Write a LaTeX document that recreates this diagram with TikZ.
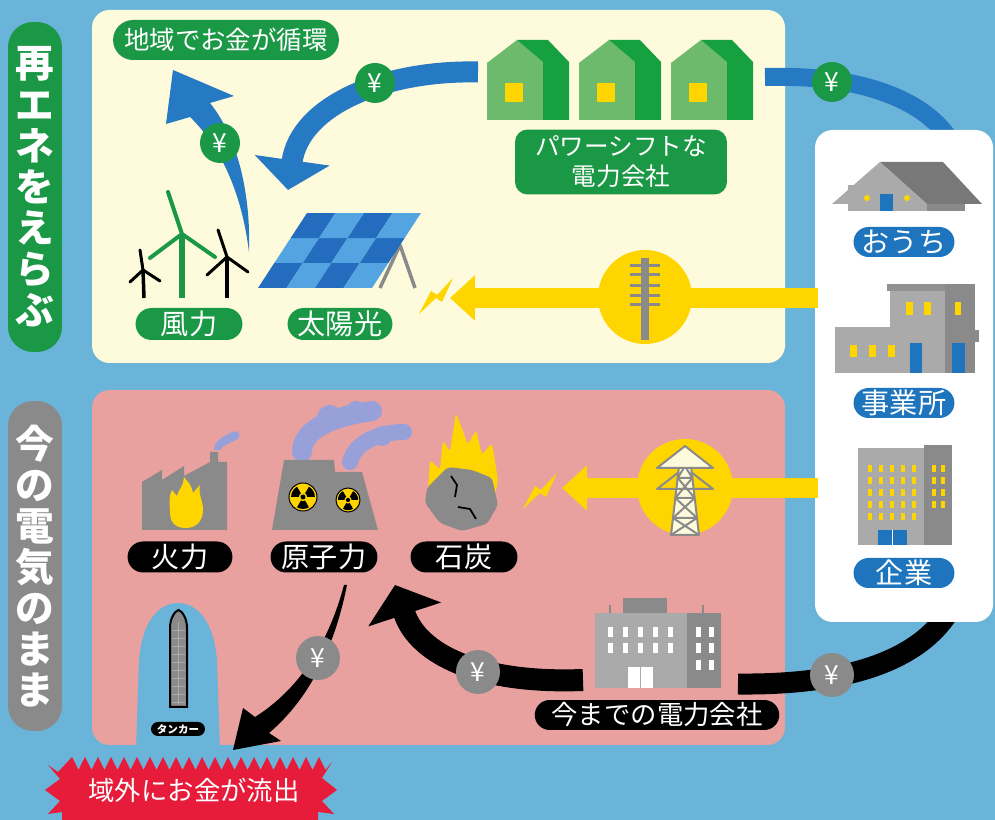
\documentclass[tikz,border=0pt]{standalone}
\usepackage{fontspec}
\setmainfont{Noto Sans CJK JP}
\usepackage{xcolor}
\usetikzlibrary{arrows.meta, shapes.misc, positioning}

\definecolor{sky}{RGB}{106,179,217}
\definecolor{cream}{RGB}{254,251,221}
\definecolor{rose}{RGB}{233,161,159}
\definecolor{leaf}{RGB}{27,152,70}
\definecolor{leaflight}{RGB}{110,186,108}
\definecolor{leafdark}{RGB}{22,160,64}
\definecolor{flowblue}{RGB}{38,122,196}
\definecolor{sun}{RGB}{255,213,0}
\definecolor{ash}{RGB}{138,138,138}
\definecolor{ashlight}{RGB}{170,170,170}
\definecolor{ashdark}{RGB}{120,120,120}
\definecolor{pillblue}{RGB}{30,117,190}
\definecolor{smoke}{RGB}{152,160,218}
\definecolor{alert}{RGB}{230,28,58}
\definecolor{cellA}{RGB}{35,108,190}
\definecolor{cellB}{RGB}{84,164,226}

\begin{document}
\begin{tikzpicture}[x=0.02cm, y=-0.02cm,
    pill/.style={rounded rectangle, inner xsep=6pt, inner ysep=0pt, text=white,
                 font=\fontsize{16}{16}\selectfont},
    greenpill/.style={pill, fill=leaf, minimum height=0.64cm},
    blackpill/.style={pill, fill=black, minimum width=2.52cm, minimum height=0.62cm},
    bluepill/.style={pill, fill=pillblue, minimum width=2.44cm, minimum height=0.6cm},
    sidelabel/.style={rounded corners=0.5cm, minimum width=1.08cm, minimum height=6.6cm,
                      text=white, align=center, font=\bfseries\fontsize{22}{23.4}\selectfont},
    yen/.style={circle, inner sep=0pt, minimum size=0.8cm, text=white,
                font=\fontsize{15}{15}\selectfont},
    greenyen/.style={yen, fill=leaf},
    grayyen/.style={yen, fill=ash, minimum size=0.88cm},
    band/.style={line width=0.42cm},
    blade/.style={line width=0.06cm, line cap=round},
  ]
  \useasboundingbox (0,0) rectangle (995,820);
  \clip (0,0) rectangle (995,820);
  \fill[sky] (0,0) rectangle (995,820);

  % the two panels
  \fill[cream, rounded corners=0.35cm] (92,10) rectangle (785,363);
  \fill[rose, rounded corners=0.35cm] (92,390) rectangle (785,745);
  % bay for the tanker
  \fill[sky] (136,750) -- (139,660) .. controls (143,615) and (163,603) .. (178,603)
    .. controls (193,603) and (213,615) .. (217,660) -- (220,750) -- cycle;

  % money bands that run under the customer panel
  \coordinate (housesE) at (765,77);
  \coordinate (homesTop) at (950,140);
  \coordinate (homesBot) at (950,610);
  \coordinate (oldcoE) at (738,684);
  \draw[flowblue, line width=0.36cm] (housesE) .. controls (860,74) and (925,100) .. (homesTop);
  \draw[black, band] (homesBot) .. controls (915,668) and (830,685) .. (oldcoE);

  % customers
  \fill[white, rounded corners=0.35cm] (815,130) rectangle (993,622);

  % house
  \fill[ashlight] (848,185) rectangle (927,211);
  \fill[ash] (927,195) rectangle (965,211);
  \fill[ashdark] (880,162) -- (943,162) -- (982,204) -- (927,204) -- cycle;
  \fill[ashlight] (832,204) -- (880,162) -- (927,204) -- cycle;
  \fill[sun] (867,198) circle[radius=3] (907,198) circle[radius=3];
  \fill[pillblue] (880,194) rectangle (893,211);

  % small office
  \fill[ashlight] (835,327) rectangle (892,373);
  \fill[ashlight] (890,290) rectangle (947,373);
  \fill[ashlight!85!black] (887,284) rectangle (949,291);
  \fill[ash] (945,284) rectangle (975,373);
  \fill[ash] (975,330) rectangle (979,342);
  \foreach \wx in {850,869,888} \fill[sun] (\wx,345) rectangle ++(7,12);
  \foreach \wx in {906,924} \fill[sun] (\wx,302) rectangle ++(7,13);
  \fill[sun] (955,302) rectangle ++(6,13);
  \fill[pillblue] (910,343) rectangle (922,373);
  \fill[pillblue] (952,343) rectangle (965,373);

  % corporate tower
  \fill[ashlight] (858,448) rectangle (924,545);
  \fill[ash] (924,445) rectangle (952,545);
  \foreach \wx in {868,879,890,901,912}
    \foreach \wy in {465,477,489,501,513} \fill[sun] (\wx,\wy) rectangle ++(4,7);
  \foreach \wx in {932,941}
    \foreach \wy in {465,477,489,501} \fill[sun] (\wx,\wy) rectangle ++(4,7);
  \fill[pillblue] (878,530) rectangle (907,545);
  \draw[white, line width=0.02cm] (892.5,530) -- (892.5,545);

  % green power companies
  \foreach \hx in {487,579,671} {
    \fill[leaflight] (\hx,120) -- (\hx,63) -- (\hx+30,40) -- (\hx+56,62) -- (\hx+56,120) -- cycle;
    \fill[leafdark] (\hx+30,40) -- (\hx+61,40) -- (\hx+82,62) -- (\hx+82,120) -- (\hx+56,120) -- (\hx+56,62) -- cycle;
    \fill[sun] (\hx+18,83) rectangle (\hx+36,102);
  }

  % wind turbines
  \draw[leaf, line width=0.11cm] (182,298) -- (182,234);
  \draw[leaf, blade, line width=0.08cm] (182,234) -- (168,192) (182,234) -- (150,258) (182,234) -- (215,257);
  \draw[black, line width=0.07cm] (144,298) -- (143,270);
  \draw[black, blade] (143,270) -- (140,250) (143,270) -- (130,282) (143,270) -- (160,281);
  \draw[black, line width=0.08cm] (227,298) -- (227,257);
  \draw[black, blade] (227,257) -- (218,230) (227,257) -- (207,275) (227,257) -- (248,272);

  % solar panel
  \draw[ash, line width=0.07cm, line join=round] (380,288) -- (400,245) -- (415,288);
  \begin{scope}[shift={(258,288)}, x={(0.57cm,0cm)}, y={(0.3267cm,0.5cm)}]
    \foreach \i in {0,...,3}
      \foreach \j in {0,...,2} {
        \pgfmathtruncatemacro\k{mod(\i+\j,2)}
        \ifnum\k=0 \def\cell{cellA}\else\def\cell{cellB}\fi
        \fill[\cell] (\i,\j) -- (\i+1,\j) -- (\i+1,\j+1) -- (\i,\j+1) -- cycle;
      }
  \end{scope}

  % renewable money loop
  \coordinate (housesW) at (478,72);
  \coordinate (plantsIn) at (288,190);
  \draw[flowblue, line width=0.42cm, -{Triangle[length=0.6cm, width=1.48cm]}]
    (housesW) .. controls (385,70) and (300,105) .. (plantsIn);
  \fill[flowblue] (249,252) .. controls (242,195) and (222,148) .. (190,117) -- (166,124)
    -- (173,70) -- (234,96) -- (210,103) .. controls (236,135) and (251,190) .. (249,252) -- cycle;

  % power lines
  \coordinate (homesW1) at (818,298);
  \coordinate (solarIn) at (450,298);
  \coordinate (homesW2) at (818,488);
  \coordinate (fossilIn) at (562,488);
  \draw[sun, line width=0.4cm, -{Triangle[length=0.5cm, width=0.88cm]}] (homesW1) -- (solarIn);
  \draw[sun, line width=0.4cm, -{Triangle[length=0.5cm, width=0.88cm]}] (homesW2) -- (fossilIn);
  \node[circle, fill=sun, minimum size=1.88cm] (pole) at (645,297) {};
  \node[circle, fill=sun, minimum size=1.92cm] (pylon) at (685,487) {};
  \foreach \bx/\by in {436/296, 540/491}
    \fill[sun] (\bx-17,\by+18) -- (\bx-5,\by-5) -- (\bx+1,\by-1) -- (\bx+17,\by-18)
      -- (\bx+6,\by+6) -- (\bx,\by+2) -- cycle;

  % utility pole
  \fill[ash] (641,258) rectangle (649,340);
  \foreach \by in {264,273,284,294,303} \fill[ash] (630,\by) rectangle (660,\by+3);
  % pylon
  \begin{scope}[ash, line width=0.04cm, line join=round]
    \draw[fill=cream] (680,458) -- (690,458) -- (699,535) -- (671,535) -- cycle;
    \draw (680,458) -- (692.3,478) -- (675.3,498) -- (697,518) -- (671,535)
          (690,458) -- (677.7,478) -- (694.7,498) -- (673,518) -- (699,535)
          (677.7,478) -- (692.3,478) (675.3,498) -- (694.7,498) (673,518) -- (697,518);
    \draw[fill=cream] (685,446) -- (713,468) -- (657,468) -- cycle;
    \draw (679,472) -- (657,489) -- (713,489) -- (691,472);
  \end{scope}

  % thermal plant
  \fill[ash] (142,530) -- (142,482) -- (162,470) -- (162,480) -- (184,466) -- (184,476)
    -- (210,462) -- (210,452) -- (218,452) -- (218,462) -- (227,462) -- (227,530) -- cycle;
  \fill[smoke] (214,450) .. controls (214,440) and (225,436) .. (232,432)
    .. controls (239,429) and (243,436) .. (236,440) .. controls (228,444) and (222,446) .. (220,450) -- cycle;
  \fill[sun] (170,512) .. controls (170,525) and (178,528) .. (186,528)
    .. controls (196,528) and (203,521) .. (203,510) .. controls (203,500) and (198,495) .. (200,485)
    -- (193,493) .. controls (192,486) and (188,482) .. (184,477) .. controls (183,488) and (178,490) .. (177,496)
    -- (172,490) .. controls (168,498) and (170,505) .. (170,512) -- cycle;

  % nuclear plant
  \draw[smoke, line width=0.4cm, line cap=round] (302,452) .. controls (302,430) and (330,417) .. (372,411);
  \draw[smoke, line width=0.32cm, line cap=round] (350,462) .. controls (355,442) and (380,432) .. (404,432);
  \fill[smoke] (330,418) circle[radius=13] (356,411) circle[radius=10] (382,436) circle[radius=10];
  \fill[ash] (272,530) -- (284,460) -- (334,460) -- (340,530) -- cycle;
  \fill[ash] (330,530) -- (334,472) -- (362,472) -- (378,530) -- cycle;
  \foreach \cx/\cy/\r in {303/497/14, 348/500/12} {
    \fill[sun, draw=black, line width=0.02cm] (\cx,\cy) circle[radius=\r];
    \foreach \a in {90,210,330}
      \fill[black] (\cx,\cy) -- ++(\a-30:\r*0.85) arc[start angle=\a-30, end angle=\a+30, radius=\r*0.85] -- cycle;
    \fill[sun] (\cx,\cy) circle[radius=\r*0.3];
    \fill[black] (\cx,\cy) circle[radius=\r*0.18];
  }

  % coal
  \fill[sun, rounded corners=2pt] (428,490) -- (430,460) -- (440,470) -- (443,440) -- (450,452)
    -- (456,413) -- (468,445) -- (476,430) -- (482,455) -- (492,443) -- (498,480) -- (495,495) -- cycle;
  \fill[ash, rounded corners=2pt] (427,488) -- (448,467) -- (472,470) -- (492,478) -- (498,505)
    -- (487,524) -- (462,531) -- (440,523) -- (425,503) -- cycle;
  \draw[black, line width=0.035cm] (451,476) -- (457,485) -- (455,497) (458,507) -- (470,509) -- (476,519);

  % the old power company
  \fill[ashlight] (595,613) rectangle (687,688);
  \fill[ash] (687,613) rectangle (721,688);
  \fill[ash] (623,598) rectangle (667,613);
  \draw[ash, line width=0.03cm] (610,605) -- (610,613) (703,605) -- (703,613);
  \foreach \wx in {608,623,638,653,668}
    \foreach \wy in {627,643} \fill[white] (\wx,\wy) rectangle ++(5,10);
  \foreach \wx in {696,709}
    \foreach \wy in {627,643,660} \fill[white] (\wx,\wy) rectangle ++(5,10);
  \fill[white] (628,667) rectangle (653,688);
  \draw[ashlight, line width=0.03cm] (640.5,667) -- (640.5,688);

  % tanker
  \fill[ash, draw=black, line width=0.04cm] (170,707) -- (170,628) .. controls (170,618) and (175,611) .. (178.5,610)
    .. controls (182,611) and (187,618) .. (187,628) -- (187,707) -- cycle;
  \foreach \ty in {630,638,...,702} \draw[ashlight, line width=0.015cm] (172,\ty) -- (185,\ty);
  \draw[ashlight, line width=0.015cm] (178.5,622) -- (178.5,705);

  % fossil money flows
  \coordinate (oldcoW) at (583,680);
  \coordinate (nuclearIn) at (395,585);
  \draw[black, line width=0.44cm, -{Triangle[length=0.62cm, width=1.5cm]}]
    (oldcoW) .. controls (480,684) and (418,655) .. (nuclearIn);
  \fill[black] (344,585) .. controls (328,645) and (298,690) .. (255,717) -- (243,708) -- (233,750)
    -- (281,741) -- (269,733) .. controls (308,700) and (334,650) .. (347,585) -- cycle;

  % money leaving the region
  \fill[alert] (58,772) \foreach \i in {0,...,19} { -- (72+\i*13,757) -- (78.5+\i*13,770) }
    -- (332,762) -- (322,778) -- (337,790) -- (322,801) -- (334,814) -- (318,812) -- (318,830)
    -- (62,830) -- (62,812) -- (48,814) -- (60,801) -- (45,790) -- (60,779) -- (48,765) -- cycle;
  \node[text=white, font=\fontsize{15}{15}\selectfont] (outflow) at (194,790) {域外にお金が流出};

  % yen markers
  \node[greenyen] (yenA) at (375,83) {¥};
  \node[greenyen] (yenB) at (220,143) {¥};
  \node[greenyen] (yenC) at (832,82) {¥};
  \node[grayyen] (yenD) at (832,675) {¥};
  \node[grayyen] (yenE) at (478,672) {¥};
  \node[grayyen] (yenF) at (318,658) {¥};

  % labels
  \node[sidelabel, fill=leaf] (choose) at (35,187) {再\\エ\\ネ\\を\\え\\ら\\ぶ};
  \node[sidelabel, fill=ash] (keep) at (35,566) {今\\の\\電\\気\\の\\ま\\ま};
  \node[greenpill, minimum width=4.94cm, minimum height=0.8cm,
        font=\fontsize{14.5}{14.5}\selectfont] (localloop) at (226,40) {地域でお金が循環};
  \node[fill=leaf, rounded corners=0.25cm, minimum width=4.24cm, minimum height=1.3cm, text=white,
        align=center, font=\fontsize{14}{17}\selectfont] (shiftco) at (621,162) {パワーシフトな\\電力会社};
  \node[greenpill, minimum width=2.56cm] (wind) at (189,324) {風力};
  \node[greenpill, minimum width=2.52cm] (solar) at (340,324) {太陽光};
  \node[bluepill] (home) at (904,242) {おうち};
  \node[bluepill] (office) at (904,403) {事業所};
  \node[bluepill] (corp) at (904,573) {企業};
  \node[blackpill] (thermal) at (180,557) {火力};
  \node[blackpill, minimum width=2.56cm] (nuclear) at (324,557) {原子力};
  \node[blackpill, minimum width=2.56cm] (coal) at (464,557) {石炭};
  \node[blackpill, minimum width=4.78cm, minimum height=0.6cm,
        font=\fontsize{15}{15}\selectfont] (oldco) at (657,715) {今までの電力会社};
  \node[blackpill, minimum width=1.22cm, minimum height=0.28cm, inner xsep=2pt,
        font=\bfseries\fontsize{6}{6}\selectfont] (tankerlbl) at (178,729) {タンカー};
\end{tikzpicture}
\end{document}
